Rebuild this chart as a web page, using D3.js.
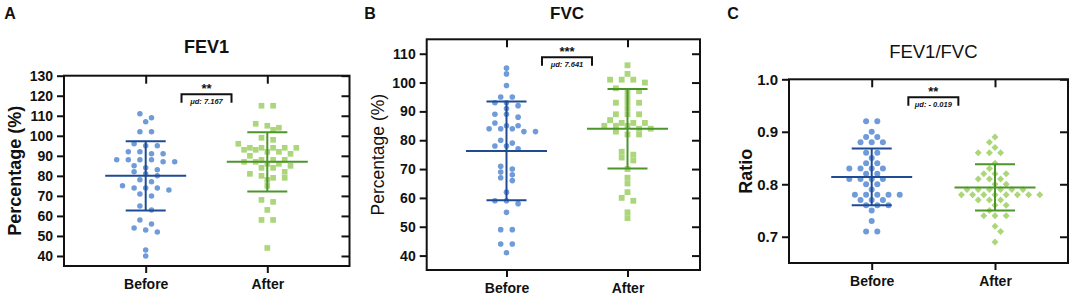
<!DOCTYPE html>
<html>
<head>
<meta charset="utf-8">
<script src="https://cdn.jsdelivr.net/npm/d3@7"></script>
<style>
  body { margin: 0; background: #fff; }
  svg text { font-family: Arial, "Liberation Sans", sans-serif; fill: #111; }
</style>
</head>
<body>
<svg id="chart" width="1084" height="298"></svg>
<script>
// groups on the x axis
const groups = ["Before", "After"];

// FEV1 (% predicted)
const fev1Before = [111, 109, 107, 102, 102, 96, 95, 95, 92, 92, 91, 91, 88, 88, 88, 88, 87, 87, 85, 84, 83,
  82, 81, 80, 78, 77, 75, 74, 74, 74, 73, 71, 70, 65, 63, 58, 56, 54, 53, 52, 43, 40];
const fev1After = [115, 115, 106, 105, 104, 103, 99, 98, 96, 94, 94, 94, 94, 94, 93, 93, 92, 92, 91, 90, 88,
  88, 88, 87, 87, 86, 86, 85, 84, 84, 82, 81, 80, 79, 79, 78, 75, 68, 67, 63, 58, 58, 44];
const fev1Mean = [80.0, 87.0];
const fev1Sd = [17.3, 14.8];

// FVC (% predicted)
const fvcBefore = [105, 103, 99, 95, 95, 93, 93, 92, 91, 89, 89, 88, 86, 85, 85, 84, 84, 84, 83, 83, 80,
  79, 78, 78, 77, 71, 70, 69, 68, 67, 66, 62, 59, 59, 58, 55, 49, 49, 44, 44, 41];
const fvcAfter = [106, 103, 101, 101, 101, 100, 98, 97, 97, 95, 93, 93, 93, 91, 89, 89, 89, 87, 86, 86, 86,
  85, 85, 85, 84, 84, 83, 82, 82, 76, 75, 74, 73, 70, 67, 65, 62, 60, 59, 55, 53];
const fvcMean = [76.3, 84.0];
const fvcSd = [17.1, 13.8];

// FEV1/FVC ratio
const ratioBefore = [0.92, 0.92, 0.90, 0.89, 0.89, 0.88, 0.88, 0.88, 0.86, 0.86, 0.85, 0.84, 0.84, 0.83,
  0.83, 0.83, 0.83, 0.82, 0.82, 0.81, 0.81, 0.81, 0.81, 0.80, 0.80, 0.79, 0.78, 0.78, 0.78, 0.78, 0.78,
  0.77, 0.77, 0.77, 0.76, 0.76, 0.76, 0.75, 0.73, 0.71, 0.71];
const ratioAfter = [0.89, 0.88, 0.87, 0.86, 0.86, 0.86, 0.84, 0.83, 0.82, 0.82, 0.82, 0.81, 0.81, 0.81,
  0.80, 0.80, 0.79, 0.79, 0.79, 0.79, 0.79, 0.79, 0.78, 0.78, 0.78, 0.78, 0.78, 0.78, 0.78, 0.78, 0.77,
  0.77, 0.77, 0.76, 0.76, 0.75, 0.74, 0.74, 0.74, 0.72, 0.71, 0.69];
const ratioMean = [0.814, 0.794];
const ratioSd = [0.054, 0.044];

// tick labels
const fev1Ticks = [40, 50, 60, 70, 80, 90, 100, 110, 120, 130];
const fvcTicks = [40, 50, 60, 70, 80, 90, 100, 110];
const ratioTicks = [0.7, 0.8, 0.9, 1.0];

// text
const panelLetters = ["A", "B", "C"];
const panelTitles = ["FEV1", "FVC", "FEV1/FVC"];
const yLabels = ["Percentage (%)", "Percentage (%)", "Ratio"];
const stars = ["**", "***", "**"];
const meanDiffs = ["μd: 7.167", "μd: 7.641", "μd: - 0.019"];

const blue = "#6f9bd9", blueDark = "#1f4b93";
const green = "#abd679", greenDark = "#4c952b";

const svg = d3.select("#chart");

// GraphPad-like row swarm: close values share a row, neighbouring rows interleave
function swarm(values, y, cx, dia, step) {
  const pts = values.map(v => ({ v, py: y(v) })).sort((a, b) => a.py - b.py);
  const rows = [];
  pts.forEach(p => {
    const row = rows[rows.length - 1];
    if (row && p.py - row[0].py < dia * 0.75) row.push(p);
    else rows.push([p]);
  });
  const placed = [];
  rows.forEach((row, r) => {
    const base = row.map((p, i) => (i - (row.length - 1) / 2) * 2 * step);
    const hits = shift => row.some((p, i) => placed.some(q =>
      Math.hypot(q.px - (cx + base[i] + shift), q.py - p.py) < dia * 1.02));
    const dir = r % 2 ? -1 : 1;
    let shift = 0;
    for (const s of [0, dir * step, -dir * step, dir * 2 * step, -dir * 2 * step]) {
      if (!hits(s)) { shift = s; break; }
    }
    row.forEach((p, i) => { p.px = cx + base[i] + shift; placed.push(p); });
  });
  return pts;
}

function scatter_panel(cfg) {
  const y = d3.scaleLinear().domain(cfg.domain).range([cfg.bottom, cfg.top]);
  const x = d3.scalePoint().domain(groups).range(cfg.xs);
  const g = svg.append("g");

  // axes
  const left = g.append("g")
    .attr("transform", `translate(${cfg.left},0)`)
    .call(d3.axisLeft(y).tickValues(cfg.ticks).tickSize(7).tickPadding(4).tickFormat(cfg.format));
  left.selectAll("text").style("font-size", cfg.tickFont + "px").style("font-weight", "bold");

  g.append("g")
    .attr("transform", `translate(${cfg.right},0)`)
    .call(d3.axisRight(y).tickValues(cfg.ticks).tickSize(-8).tickFormat(""));

  const bottom = g.append("g")
    .attr("transform", `translate(0,${cfg.bottom})`)
    .call(d3.axisBottom(x).tickSize(7).tickPadding(6));
  bottom.selectAll("text").style("font-size", "14px").style("font-weight", "bold");

  g.append("g")
    .attr("transform", `translate(0,${cfg.top})`)
    .call(d3.axisTop(x).tickSize(-8).tickFormat(""));

  g.selectAll(".domain").remove();
  g.selectAll(".tick line").attr("stroke", "#111").attr("stroke-width", 2);

  g.append("rect")
    .attr("x", cfg.left).attr("y", cfg.top)
    .attr("width", cfg.right - cfg.left).attr("height", cfg.bottom - cfg.top)
    .attr("fill", "none").attr("stroke", "#111").attr("stroke-width", 2);

  // points
  const before = swarm(cfg.data[0], y, x("Before"), cfg.dia, cfg.step);
  g.append("g").selectAll("circle")
    .data(before)
    .join("circle")
    .attr("cx", d => d.px).attr("cy", d => d.py)
    .attr("r", cfg.dia / 2)
    .attr("fill", blue);

  const after = swarm(cfg.data[1], y, x("After"), cfg.dia, cfg.step);
  const sym = d3.symbol().type(d3.symbolSquare).size(cfg.afterSize);
  g.append("g").selectAll("path")
    .data(after)
    .join("path")
    .attr("d", sym)
    .attr("transform", d => `translate(${d.px},${d.py})` + (cfg.diamond ? " rotate(45)" : ""))
    .attr("fill", green);

  // mean +/- SD
  groups.forEach((grp, i) => {
    const cx = x(grp), m = cfg.mean[i], s = cfg.sd[i];
    const col = i === 0 ? blueDark : greenDark;
    const bars = g.append("g").attr("stroke", col).attr("stroke-width", 2);
    bars.append("line").attr("x1", cx - 40.5).attr("x2", cx + 40.5).attr("y1", y(m)).attr("y2", y(m));
    bars.append("line").attr("x1", cx - 20).attr("x2", cx + 20).attr("y1", y(m + s)).attr("y2", y(m + s));
    bars.append("line").attr("x1", cx - 20).attr("x2", cx + 20).attr("y1", y(m - s)).attr("y2", y(m - s));
    bars.append("line").attr("x1", cx).attr("x2", cx).attr("y1", y(m + s)).attr("y2", y(m - s));
  });

  // significance bracket
  const mid = (x("Before") + x("After")) / 2;
  const by = cfg.bracketY;
  g.append("path")
    .attr("d", `M${mid - 25},${by + 8.5}V${by}H${mid + 25}V${by + 8.5}`)
    .attr("fill", "none").attr("stroke", "#111").attr("stroke-width", 2);
  g.append("text")
    .attr("x", mid).attr("y", by - 1.5)
    .attr("text-anchor", "middle")
    .style("font-size", "13px").style("font-weight", "bold")
    .text(cfg.stars);
  g.append("text")
    .attr("x", mid).attr("y", by + 10)
    .attr("text-anchor", "middle")
    .style("font-size", "7.5px").style("font-weight", "bold").style("font-style", "italic")
    .text(cfg.diff);

  // labels
  svg.append("text")
    .attr("x", cfg.letterX).attr("y", 19)
    .style("font-size", "16px").style("font-weight", "bold")
    .attr("text-anchor", "middle")
    .text(cfg.letter);
  svg.append("text")
    .attr("x", mid).attr("y", cfg.titleY)
    .attr("text-anchor", "middle")
    .style("font-size", cfg.titleFont + "px").style("font-weight", cfg.titleWeight)
    .text(cfg.title);
  svg.append("text")
    .attr("transform", `translate(${cfg.yLabelX},${(cfg.top + cfg.bottom) / 2}) rotate(-90)`)
    .attr("text-anchor", "middle")
    .attr("dy", "0.35em")
    .style("font-size", cfg.yLabelFont + "px").style("font-weight", cfg.yLabelWeight)
    .text(cfg.yLabel);
}

scatter_panel({
  data: [fev1Before, fev1After], mean: fev1Mean, sd: fev1Sd,
  domain: [35, 130], ticks: fev1Ticks, format: d3.format("d"), tickFont: 14,
  left: 64, right: 349.5, top: 75.7, bottom: 266, xs: [145.7, 267.3],
  dia: 5.5, step: 5.8, afterSize: 32, diamond: false,
  bracketY: 94.3, stars: stars[0], diff: meanDiffs[0],
  letter: panelLetters[0], letterX: 10, title: panelTitles[0], titleY: 52.5, titleFont: 18, titleWeight: "bold",
  yLabel: yLabels[0], yLabelX: 15, yLabelFont: 18, yLabelWeight: "bold"
});

scatter_panel({
  data: [fvcBefore, fvcAfter], mean: fvcMean, sd: fvcSd,
  domain: [35, 115], ticks: fvcTicks, format: d3.format("d"), tickFont: 14,
  left: 426.7, right: 700, top: 39.3, bottom: 270, xs: [506.5, 627.5],
  dia: 5.6, step: 5.8, afterSize: 34, diamond: false,
  bracketY: 57.3, stars: stars[1], diff: meanDiffs[1],
  letter: panelLetters[1], letterX: 370, title: panelTitles[1], titleY: 19, titleFont: 17, titleWeight: "bold",
  yLabel: yLabels[1], yLabelX: 378, yLabelFont: 17.5, yLabelWeight: "normal"
});

scatter_panel({
  data: [ratioBefore, ratioAfter], mean: ratioMean, sd: ratioSd,
  domain: [0.65, 1.0], ticks: ratioTicks, format: d3.format(".1f"), tickFont: 15,
  left: 789, right: 1068, top: 79.3, bottom: 263, xs: [871.7, 995],
  dia: 6, step: 5.6, afterSize: 24, diamond: true,
  bracketY: 97.3, stars: stars[2], diff: meanDiffs[2],
  letter: panelLetters[2], letterX: 733, title: panelTitles[2], titleY: 58, titleFont: 18.5, titleWeight: "normal",
  yLabel: yLabels[2], yLabelX: 746, yLabelFont: 18, yLabelWeight: "bold"
});
</script>
</body>
</html>
